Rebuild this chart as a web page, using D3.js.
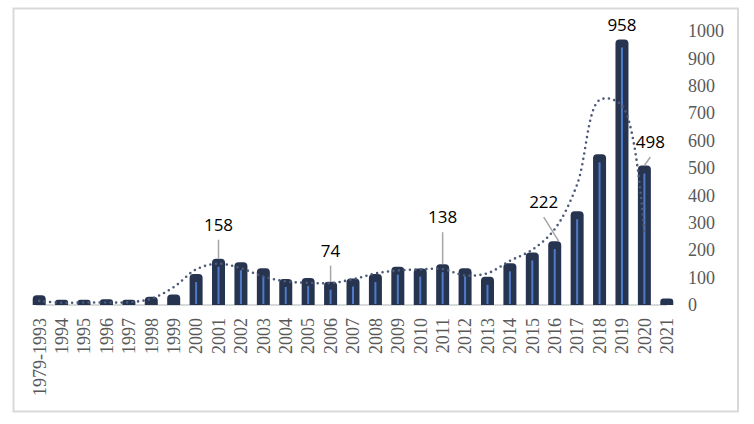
<!DOCTYPE html>
<html>
<head>
<meta charset="utf-8">
<script src="https://cdn.jsdelivr.net/npm/d3@7"></script>
<style>
  body { margin: 0; background: #fff; }
  svg { display: block; }
</style>
</head>
<body>
<div id="chart"></div>
<script>
// categories on the x axis
var years = ["1979-1993", "1994", "1995", "1996", "1997", "1998", "1999", "2000",
    "2001", "2002", "2003", "2004", "2005", "2006", "2007", "2008", "2009", "2010",
    "2011", "2012", "2013", "2014", "2015", "2016", "2017", "2018", "2019", "2020", "2021"];

// bar values
var counts = [25, 8, 8, 10, 8, 19, 27, 102, 158, 145, 123, 84, 88, 74, 86, 102, 129,
    122, 138, 123, 92, 141, 181, 222, 331, 539, 958, 498, 13];

// dotted trend line, one point per category up to 2020
var trend = [15, 8, 9, 9, 10, 23, 65, 130, 151, 134, 104, 86, 81, 80, 94, 115, 126,
    130, 131, 108, 116, 161, 202, 277, 440, 748, 728, 255];

// which bars carry a value label
var labelled = ["2001", "2006", "2011", "2016", "2019", "2020"];

var yTicks = [0, 100, 200, 300, 400, 500, 600, 700, 800, 900, 1000];

var svgWidth = 754;
var svgHeight = 424;
var serif = "'Liberation Serif', 'DejaVu Serif', serif";

var svg = d3.select("#chart")
    .append("svg")
    .attr("width", svgWidth)
    .attr("height", svgHeight);

// outer frame
svg.append("rect")
    .attr("x", 13.5)
    .attr("y", 8.5)
    .attr("width", 724.5)
    .attr("height", 403)
    .attr("fill", "#fff")
    .attr("stroke", "#d9d9d9")
    .attr("stroke-width", 2);

var xScale = d3.scaleBand()
    .domain(years)
    .range([28, 678])
    .paddingInner(0.42)
    .paddingOuter(0.21);

var yScale = d3.scaleLinear()
    .domain([0, 1000])
    .range([305, 31]);

var cx = d => xScale(d) + xScale.bandwidth() / 2;

// x axis line
svg.append("line")
    .attr("x1", 36)
    .attr("x2", 667)
    .attr("y1", yScale(0))
    .attr("y2", yScale(0))
    .attr("stroke", "#d9d9d9")
    .attr("stroke-width", 2);

// right axis labels
var rightAxis = d3.axisRight(yScale)
    .tickValues(yTicks)
    .tickFormat(d3.format("d"))
    .tickSize(0)
    .tickPadding(0);
var yAxisG = svg.append("g")
    .attr("transform", "translate(688,0)")
    .call(rightAxis)
    .attr("font-family", serif)
    .attr("font-size", 18);
yAxisG.select(".domain").remove();
yAxisG.selectAll("text")
    .style("font-family", serif)
    .attr("fill", "#595959");

// bottom axis labels, rotated
var bottomAxis = d3.axisBottom(xScale).tickSize(0).tickPadding(0);
var xAxisG = svg.append("g")
    .attr("transform", "translate(0,318)")
    .call(bottomAxis)
    .attr("font-family", serif)
    .attr("font-size", 18);
xAxisG.select(".domain").remove();
xAxisG.selectAll("text")
    .style("font-family", serif)
    .attr("fill", "#595959")
    .attr("text-anchor", "end")
    .attr("transform", "rotate(-90)")
    .attr("x", 0)
    .attr("y", 0)
    .attr("dy", "0.35em");

// bars with rounded top
var barData = years.map((d, i) => ({ year: d, value: counts[i] }));
var bw = xScale.bandwidth();

function barPath(d) {
    var x0 = xScale(d.year), x1 = x0 + bw;
    var y0 = yScale(0), top = yScale(d.value) - 3;
    var r = Math.min(4, (y0 - top) / 2);
    return "M" + x0 + "," + y0 +
        "L" + x0 + "," + (top + r) +
        "Q" + x0 + "," + top + " " + (x0 + r) + "," + top +
        "L" + (x1 - r) + "," + top +
        "Q" + x1 + "," + top + " " + x1 + "," + (top + r) +
        "L" + x1 + "," + y0 + "Z";
}

svg.append("g").selectAll("path")
    .data(barData)
    .enter()
    .append("path")
    .attr("d", barPath)
    .attr("fill", "#263450");

// light stripe down the middle of each bar
svg.append("g").selectAll("line")
    .data(barData.filter(d => yScale(0) - yScale(d.value) > 12))
    .enter()
    .append("line")
    .attr("x1", d => cx(d.year))
    .attr("x2", d => cx(d.year))
    .attr("y1", d => yScale(d.value) + 5)
    .attr("y2", yScale(0) - 1)
    .attr("stroke", "#4f7bc6")
    .attr("stroke-width", 2);

// dotted trend line
var trendData = trend.map((v, i) => ({ year: years[i], value: v }));
var trendLine = d3.line()
    .x(d => cx(d.year))
    .y(d => yScale(d.value))
    .curve(d3.curveCatmullRom.alpha(0.5));

svg.append("path")
    .datum(trendData)
    .attr("d", trendLine)
    .attr("fill", "none")
    .attr("stroke", "#4d5b78")
    .attr("stroke-width", 2.6)
    .attr("stroke-linecap", "round")
    .attr("stroke-dasharray", "0 5.5");

// value labels: offset of the text from its bar top, and where the leader ends
var labelOffset = {
    "2001": [0, -28], "2006": [0, -25], "2011": [0, -41],
    "2016": [-11, -33], "2019": [0, -8.5], "2020": [6, -17.5]
};
var leaderEndDx = { "2001": 0, "2006": 0, "2011": 0, "2016": 4, "2020": 0 };

var labels = barData.filter(d => labelled.indexOf(d.year) >= 0);

svg.append("g").selectAll("line")
    .data(labels.filter(d => d.year !== "2019"))
    .enter()
    .append("line")
    .attr("x1", d => cx(d.year) + labelOffset[d.year][0])
    .attr("y1", d => yScale(d.value) - 3 + labelOffset[d.year][1] + 9)
    .attr("x2", d => cx(d.year) + leaderEndDx[d.year])
    .attr("y2", d => yScale(d.value) - 3)
    .attr("stroke", "#a6a6a6")
    .attr("stroke-width", 1.5);

svg.append("g").selectAll("text")
    .data(labels)
    .enter()
    .append("text")
    .attr("x", d => cx(d.year) + labelOffset[d.year][0])
    .attr("y", d => yScale(d.value) - 3 + labelOffset[d.year][1])
    .attr("text-anchor", "middle")
    .attr("font-family", "'Open Sans', 'Liberation Sans', sans-serif")
    .attr("font-size", 17)
    .attr("fill", "#000")
    .text(d => d.value);
</script>
</body>
</html>
